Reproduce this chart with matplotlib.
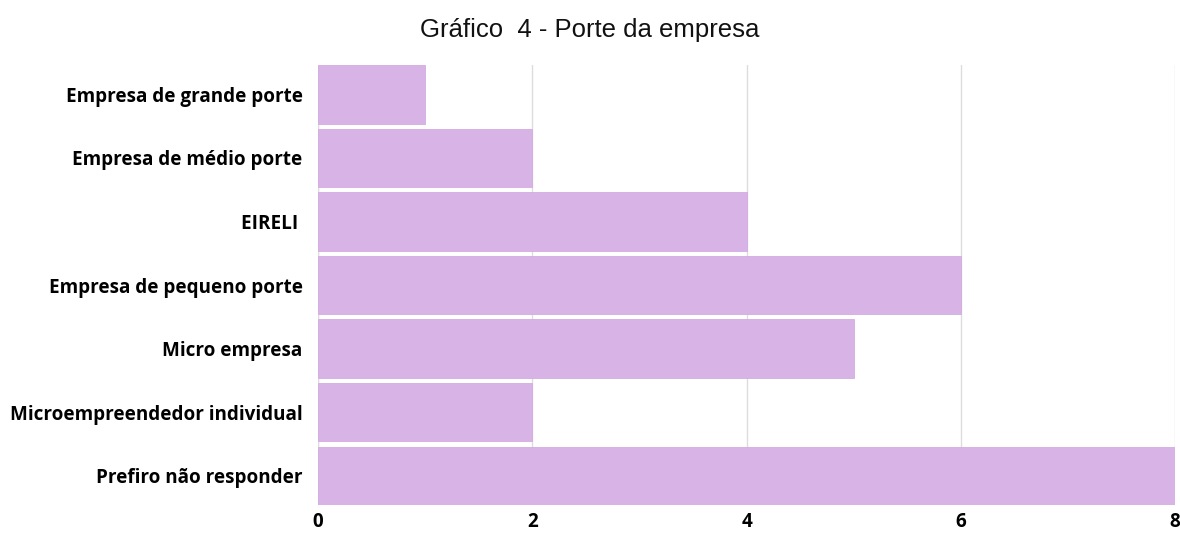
import matplotlib.pyplot as plt
from matplotlib import font_manager as fm

# categories top to bottom
categories = ['Empresa de grande porte', 'Empresa de médio porte', 'EIRELI ',
              'Empresa de pequeno porte', 'Micro empresa',
              'Microempreendedor individual', 'Prefiro não responder']
values = [1, 2, 4, 6, 5, 2, 8]
xticks = [0, 2, 4, 6, 8]

# pick the normal-width Open Sans Bold file
bold_path = None
for f in fm.fontManager.ttflist:
	if f.fname.endswith('OpenSans-Bold.ttf'):
		bold_path = f.fname
if bold_path:
	lab_font = fm.FontProperties(fname=bold_path, size=13.6)
else:
	lab_font = fm.FontProperties(family='Open Sans', weight='bold', size=13.6)

fig = plt.figure(figsize=(11.8, 5.33), dpi=100)
ax = fig.add_axes([0.2695, 0.0525, 0.7263, 0.8255])

pos = range(len(categories))
ax.barh(pos, values, height=0.92, color='#d8b4e6', edgecolor='#d3ace2', linewidth=0.6, zorder=2)

ax.set_ylim(len(categories) - 0.54, -0.46)
ax.set_xlim(0, 8)
ax.set_xticks(xticks)
ax.set_xticklabels([str(t) for t in xticks], fontproperties=lab_font)
ax.set_yticks(list(pos))
ax.set_yticklabels(categories, fontproperties=lab_font)
ax.tick_params(axis='y', length=0, pad=11)
ax.tick_params(axis='x', length=0, pad=5)

ax.grid(axis='x', color='#dddddd', linewidth=1, zorder=0)
for s in ax.spines.values():
	s.set_visible(False)
ax.axvline(0, color='#e4e4e4', linewidth=1, zorder=1)

fig.text(0.5, 0.943, 'Gráfico  4 - Porte da empresa', ha='center', va='center',
         fontfamily='Liberation Sans', fontsize=18.5, color='#111111')

fig.savefig('out.png', dpi=100)
